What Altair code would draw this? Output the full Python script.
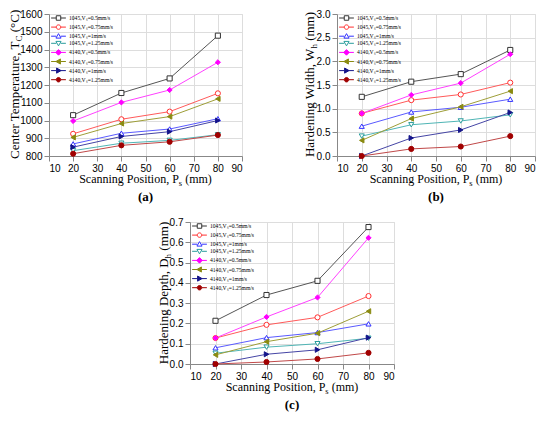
import altair as alt
import pandas as pd

SERIF = "Liberation Serif"

# ---------------- data ----------------
scan_pos = [20, 40, 60, 80]
series = [
    "1045,Vₛ=0.5mm/s", "1045,Vₛ=0.75mm/s", "1045,Vₛ=1mm/s", "1045,Vₛ=1.25mm/s",
    "4140,Vₛ=0.5mm/s", "4140,Vₛ=0.75mm/s", "4140,Vₛ=1mm/s", "4140,Vₛ=1.25mm/s",
]

# (a) centre temperature (°C)
temp_1045_050 = [1030, 1155, 1237, 1478]
temp_1045_075 = [925, 1007, 1050, 1153]
temp_1045_100 = [868, 928, 952, 1010]
temp_1045_125 = [830, 872, 888, 920]
temp_4140_050 = [997, 1102, 1172, 1328]
temp_4140_075 = [905, 983, 1022, 1122]
temp_4140_100 = [850, 910, 937, 1000]
temp_4140_125 = [813, 860, 880, 918]

# (b) hardening width (mm)
width_1045_050 = [1.25, 1.57, 1.73, 2.24]
width_1045_075 = [0.90, 1.18, 1.30, 1.55]
width_1045_100 = [0.63, 0.93, 1.03, 1.20]
width_1045_125 = [0.42, 0.66, 0.74, 0.87]
width_4140_050 = [0.90, 1.29, 1.54, 2.15]
width_4140_075 = [0.33, 0.79, 1.04, 1.37]
width_4140_100 = [0.00, 0.38, 0.55, 0.92]
width_4140_125 = [0.00, 0.15, 0.20, 0.42]

# (c) hardening depth (mm)
depth_1045_050 = [0.213, 0.340, 0.410, 0.675]
depth_1045_075 = [0.128, 0.193, 0.230, 0.335]
depth_1045_100 = [0.080, 0.130, 0.155, 0.198]
depth_1045_125 = [0.053, 0.083, 0.100, 0.127]
depth_4140_050 = [0.128, 0.232, 0.328, 0.622]
depth_4140_075 = [0.045, 0.110, 0.152, 0.260]
depth_4140_100 = [0.000, 0.048, 0.070, 0.130]
depth_4140_125 = [0.000, 0.010, 0.025, 0.055]

x_ticks = [10, 20, 30, 40, 50, 60, 70, 80, 90]
temp_ticks = [800, 900, 1000, 1100, 1200, 1300, 1400, 1500, 1600]
width_ticks = [0.0, 0.5, 1.0, 1.5, 2.0, 2.5, 3.0]
depth_ticks = [0.0, 0.1, 0.2, 0.3, 0.4, 0.5, 0.6, 0.7]

# ---------------- styles ----------------
marker_colors = ["#333333", "#FF3030", "#3030FF", "#2A9D9D",
                 "#FF00FF", "#8A8A10", "#14148A", "#A00000"]
line_colors = ["#555555", "#FF5A5A", "#5A5AFF", "#4FB5B5",
               "#FF40FF", "#9E9E38", "#4545A5", "#C04848"]
fill_colors = ["white", "white", "white", "white",
               "#FF00FF", "#8A8A10", "#14148A", "#A00000"]
shapes = ["square", "circle", "triangle-up", "triangle-down",
          "diamond", "triangle-left", "triangle-right", "circle"]

stub = "M-3.3,0H-1M1,0H3.3"
legend_shapes = [
    stub + "M-1,-1H1V1H-1Z",
    stub + "M1,0A1,1,0,1,1,-1,0A1,1,0,1,1,1,0Z",
    stub + "M0,-1.15L1.15,0.85H-1.15Z",
    stub + "M0,1.15L1.15,-0.85H-1.15Z",
    stub + "M0,-1.25L1.25,0L0,1.25L-1.25,0Z",
    stub + "M-1.15,0L0.85,-1.15V1.15Z",
    stub + "M1.15,0L-0.85,-1.15V1.15Z",
    stub + "M1,0A1,1,0,1,1,-1,0A1,1,0,1,1,1,0Z",
]

# Times-like advance widths (em) for title width estimates
EM = {" ": .25, "(": .333, ")": .333, ",": .25, "°": .4, "C": .667, "D": .722,
      "H": .722, "P": .556, "S": .556, "T": .611, "W": .944, "a": .444, "c": .444,
      "d": .5, "e": .444, "g": .5, "h": .5, "i": .278, "m": .778, "n": .5,
      "o": .5, "p": .5, "r": .333, "s": .389, "t": .278, "u": .5}


def tw(s, size):
    return sum(EM.get(ch, .5) for ch in s) * size


def one(text):
    return alt.Chart(pd.DataFrame({"t": [text]}))


def title_layers(parts, w, h, vertical, offset, size, sub_size):
    main, sub, post = parts
    gap = tw(" ", size)
    mw, sw, pw = tw(main, size), tw(sub, sub_size), tw(post, size)
    total = mw + sw + gap + pw
    common = dict(font=SERIF, color="black", baseline="alphabetic")
    if vertical:
        ax, ay = -offset, h / 2 + total / 2 - mw
        common["angle"] = 270
    else:
        ax, ay = w / 2 - total / 2 + mw, h + offset
    enc = dict(text="t:N", x=alt.value(ax), y=alt.value(ay))
    return [
        one(main).mark_text(align="right", fontSize=size, **common).encode(**enc),
        one(sub).mark_text(align="left", fontSize=sub_size, dy=3, **common).encode(**enc),
        one(post).mark_text(align="left", fontSize=size, dx=sw + gap, **common).encode(**enc),
    ]


def panel(values, ydomain, yticks, yfmt, ytitle, ytitle_off, label, w, h):
    rows = []
    for name, vals in zip(series, values):
        for xv, yv in zip(scan_pos, vals):
            rows.append({"series": name, "x": xv, "y": yv})
    df = pd.DataFrame(rows)
    xenc = alt.X("x:Q", scale=alt.Scale(domain=[10, 90], nice=False),
                 axis=alt.Axis(values=x_ticks, title=None, format="d"))
    yenc = alt.Y("y:Q", scale=alt.Scale(domain=ydomain, nice=False, zero=False),
                 axis=alt.Axis(values=yticks, title=None, format=yfmt))
    base = alt.Chart(df)
    lines = base.mark_line(strokeWidth=1).encode(
        x=xenc, y=yenc,
        color=alt.Color("series:N", scale=alt.Scale(domain=series, range=line_colors), legend=None),
        order="x:Q",
    )
    pts = base.mark_point(filled=False, opacity=1, fillOpacity=1, strokeWidth=1, size=26).encode(
        x=xenc, y=yenc,
        color=alt.Color("series:N", scale=alt.Scale(domain=series, range=marker_colors), legend=None),
        fill=alt.Fill("series:N", scale=alt.Scale(domain=series, range=fill_colors), legend=None),
        shape=alt.Shape("series:N", scale=alt.Scale(domain=series, range=shapes), legend=None),
    )
    leg = alt.Legend(title=None, orient="none", legendX=6.5, legendY=1, padding=0,
                     labelFont=SERIF, labelFontSize=5.6, labelColor="black",
                     symbolSize=20, symbolStrokeWidth=1, rowPadding=-0.9, labelOffset=7.5)
    legend_layer = base.mark_point(filled=False, opacity=1, fillOpacity=1, strokeWidth=1).encode(
        x=xenc, y=yenc,
        color=alt.Color("series:N", scale=alt.Scale(domain=series, range=marker_colors), legend=leg),
        fill=alt.Fill("series:N", scale=alt.Scale(domain=series, range=fill_colors), legend=leg),
        shape=alt.Shape("series:N", scale=alt.Scale(domain=series, range=legend_shapes), legend=leg),
    ).transform_filter("false")

    texts = title_layers(ytitle, w, h, True, ytitle_off, 13, 9)
    texts += title_layers(("Scanning Position, P", "s", "(mm)"), w, h, False, 27, 12, 8.5)
    texts.append(one(label).mark_text(font=SERIF, fontSize=13, fontWeight="bold", color="black",
                                      align="center", baseline="alphabetic").encode(
        text="t:N", x=alt.value(w / 2), y=alt.value(h + 45)))

    return alt.layer(lines, pts, legend_layer, *texts).resolve_scale(
        color="independent", fill="independent", shape="independent"
    ).properties(width=w, height=h)


pa = panel([temp_1045_050, temp_1045_075, temp_1045_100, temp_1045_125,
            temp_4140_050, temp_4140_075, temp_4140_100, temp_4140_125],
           [800, 1600], temp_ticks, "d", ("Center Temperature, T", "C", "(°C)"), 30, "(a)", 193, 142)
pb = panel([width_1045_050, width_1045_075, width_1045_100, width_1045_125,
            width_4140_050, width_4140_075, width_4140_100, width_4140_125],
           [0, 3], width_ticks, ".1f", ("Hardening Width, W", "h", "(mm)"), 23, "(b)", 198, 142)
pc = panel([depth_1045_050, depth_1045_075, depth_1045_100, depth_1045_125,
            depth_4140_050, depth_4140_075, depth_4140_100, depth_4140_125],
           [0, 0.7], depth_ticks, ".1f", ("Hardening Depth, D", "h", "(mm)"), 22, "(c)", 204, 142)

chart = alt.vconcat(
    alt.hconcat(pa, pb, spacing=60),
    pc,
    spacing=11,
    center=True,
).properties(padding=0).configure_axis(
    labelFont=SERIF, labelFontSize=10.5, labelColor="black",
    domainColor="black", tickColor="black", tickSize=3, labelPadding=0,
    grid=False, domainWidth=1, tickWidth=1,
).configure_view(stroke="black", strokeWidth=1).configure(background="white")

chart.save("out.html", embed_options={"renderer": "svg", "actions": False})
